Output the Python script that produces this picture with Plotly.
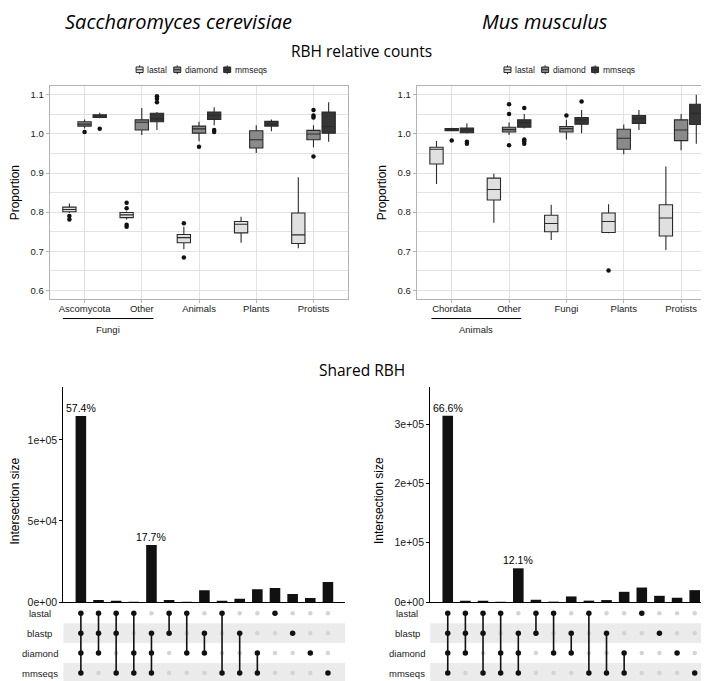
import plotly.graph_objects as go

W, H = 709, 681

# ---------------- data ----------------
methods = ["lastal", "diamond", "mmseqs"]
sc_groups = ["Ascomycota", "Other", "Animals", "Plants", "Protists"]
mm_groups = ["Chordata", "Other", "Fungi", "Plants", "Protists"]

# box statistics per method (lists over groups): q1, median, q3, lower whisker, upper whisker
sc_lastal_q1 = [0.801, 0.786, 0.722, 0.747, 0.720]
sc_lastal_med = [0.807, 0.793, 0.735, 0.769, 0.742]
sc_lastal_q3 = [0.813, 0.799, 0.743, 0.776, 0.798]
sc_lastal_lo = [0.798, 0.781, 0.705, 0.722, 0.708]
sc_lastal_hi = [0.822, 0.802, 0.763, 0.788, 0.889]
sc_lastal_out = [[0.790, 0.781], [0.824, 0.810, 0.768, 0.763], [0.772, 0.684], [], []]

sc_diamond_q1 = [1.020, 1.010, 1.002, 0.964, 0.985]
sc_diamond_med = [1.025, 1.030, 1.013, 0.985, 1.000]
sc_diamond_q3 = [1.031, 1.036, 1.020, 1.008, 1.009]
sc_diamond_lo = [1.014, 0.997, 0.981, 0.951, 0.966]
sc_diamond_hi = [1.037, 1.066, 1.031, 1.022, 1.022]
sc_diamond_out = [[1.005], [], [0.967], [], [1.061, 1.047, 1.042, 0.942]]

sc_mmseqs_q1 = [1.042, 1.031, 1.037, 1.020, 1.002]
sc_mmseqs_med = [1.046, 1.039, 1.047, 1.025, 1.019]
sc_mmseqs_q3 = [1.049, 1.053, 1.056, 1.032, 1.056]
sc_mmseqs_lo = [1.040, 1.010, 1.022, 1.007, 0.980]
sc_mmseqs_hi = [1.054, 1.056, 1.068, 1.037, 1.081]
sc_mmseqs_out = [[1.013], [1.096, 1.090, 1.081], [1.010, 1.005], [], []]

mm_lastal_q1 = [0.923, 0.831, 0.750, 0.748, 0.739]
mm_lastal_med = [0.961, 0.858, 0.771, 0.776, 0.785]
mm_lastal_q3 = [0.966, 0.887, 0.792, 0.798, 0.819]
mm_lastal_lo = [0.872, 0.773, 0.729, 0.746, 0.703]
mm_lastal_hi = [0.982, 0.898, 0.819, 0.820, 0.917]
mm_lastal_out = [[], [], [], [0.651], []]

mm_diamond_q1 = [1.0085, 1.005, 1.005, 0.961, 0.983]
mm_diamond_med = [1.011, 1.011, 1.0136, 0.989, 1.010]
mm_diamond_q3 = [1.0136, 1.017, 1.019, 1.012, 1.036]
mm_diamond_lo = [1.007, 0.997, 0.986, 0.948, 0.958]
mm_diamond_hi = [1.016, 1.029, 1.036, 1.024, 1.051]
mm_diamond_out = [[0.983], [1.076, 1.051, 0.971], [1.047], [], []]

mm_mmseqs_q1 = [1.003, 1.017, 1.025, 1.027, 1.024]
mm_mmseqs_med = [1.010, 1.029, 1.036, 1.039, 1.053]
mm_mmseqs_q3 = [1.015, 1.036, 1.042, 1.047, 1.076]
mm_mmseqs_lo = [1.001, 1.014, 1.002, 1.010, 0.975]
mm_mmseqs_hi = [1.027, 1.051, 1.061, 1.061, 1.100]
mm_mmseqs_out = [[0.980, 0.975], [1.066, 0.986, 0.981, 0.975], [1.083], [], []]

prop_ticks = [0.6, 0.7, 0.8, 0.9, 1.0, 1.1]

# UpSet intersections
set_names = ["lastal", "blastp", "diamond", "mmseqs"]
intersections = [
    ["lastal", "blastp", "diamond", "mmseqs"],
    ["lastal", "blastp", "diamond"],
    ["lastal", "blastp", "mmseqs"],
    ["lastal", "diamond", "mmseqs"],
    ["blastp", "diamond", "mmseqs"],
    ["lastal", "blastp"],
    ["lastal", "diamond"],
    ["blastp", "diamond"],
    ["lastal", "mmseqs"],
    ["blastp", "mmseqs"],
    ["diamond", "mmseqs"],
    ["lastal"],
    ["blastp"],
    ["diamond"],
    ["mmseqs"],
]
sc_sizes = [114700, 1200, 600, 200, 35200, 1200, 100, 7300, 400, 2000, 7900, 8700, 4900, 2400, 12400]
mm_sizes = [314000, 2200, 1000, 500, 56800, 3800, 100, 9400, 1000, 3300, 17200, 24400, 10500, 7200, 20000]
sc_pct_labels = ["57.4%", "", "", "", "17.7%", "", "", "", "", "", "", "", "", "", ""]
mm_pct_labels = ["66.6%", "", "", "", "12.1%", "", "", "", "", "", "", "", "", "", ""]
sc_size_ticks = [0, 50000, 100000]
sc_size_ticktext = ["0e+00", "5e+04", "1e+05"]
mm_size_ticks = [0, 100000, 200000, 300000]
mm_size_ticktext = ["0e+00", "1e+05", "2e+05", "3e+05"]

# ---------------- style ----------------
FONT = "Liberation Sans, Arial, sans-serif"
TFONT = "Open Sans, sans-serif"
fills = {"lastal": "#e0e0e0", "diamond": "#8a8a8a", "mmseqs": "#363636"}
offsets = {"lastal": -0.265, "diamond": 0.0, "mmseqs": 0.265}
BOXW = 0.232
GRID = "#e2e2e2"
BORDER = "#b3b3b3"


def px(x):
    return x / W


def py(y):
    return 1 - y / H


fig = go.Figure()

panels = [
    ("x", "y", sc_groups, {
        "lastal": (sc_lastal_q1, sc_lastal_med, sc_lastal_q3, sc_lastal_lo, sc_lastal_hi, sc_lastal_out),
        "diamond": (sc_diamond_q1, sc_diamond_med, sc_diamond_q3, sc_diamond_lo, sc_diamond_hi, sc_diamond_out),
        "mmseqs": (sc_mmseqs_q1, sc_mmseqs_med, sc_mmseqs_q3, sc_mmseqs_lo, sc_mmseqs_hi, sc_mmseqs_out),
    }),
    ("x2", "y2", mm_groups, {
        "lastal": (mm_lastal_q1, mm_lastal_med, mm_lastal_q3, mm_lastal_lo, mm_lastal_hi, mm_lastal_out),
        "diamond": (mm_diamond_q1, mm_diamond_med, mm_diamond_q3, mm_diamond_lo, mm_diamond_hi, mm_diamond_out),
        "mmseqs": (mm_mmseqs_q1, mm_mmseqs_med, mm_mmseqs_q3, mm_mmseqs_lo, mm_mmseqs_hi, mm_mmseqs_out),
    }),
]

for xa, ya, groups, stats in panels:
    for m in methods:
        q1, med, q3, lo, hi, out = stats[m]
        xs = [i + offsets[m] for i in range(len(groups))]
        fig.add_trace(go.Box(
            x=xs, q1=q1, median=med, q3=q3, lowerfence=lo, upperfence=hi,
            width=BOXW, whiskerwidth=0, fillcolor=fills[m],
            line=dict(color="#2a2a2a", width=1.1),
            boxpoints=False, showlegend=False, hoverinfo="skip",
            xaxis=xa, yaxis=ya, name=m,
        ))
        ox, oy = [], []
        for i, vals in enumerate(out):
            for v in vals:
                ox.append(i + offsets[m])
                oy.append(v)
        fig.add_trace(go.Scatter(
            x=ox, y=oy, mode="markers",
            marker=dict(color="#111111", size=4.5),
            showlegend=False, hoverinfo="skip", xaxis=xa, yaxis=ya,
        ))

# bars + matrix
bar_panels = [
    ("x3", "y3", "x5", "y5", sc_sizes, sc_pct_labels),
    ("x4", "y4", "x6", "y6", mm_sizes, mm_pct_labels),
]
annotations = []
shapes = []
for xb, yb, xm, ym, sizes, pcts in bar_panels:
    cols = list(range(1, len(intersections) + 1))
    fig.add_trace(go.Bar(
        x=cols, y=sizes, width=0.6, marker=dict(color="#111111", line=dict(width=0)),
        showlegend=False, hoverinfo="skip", xaxis=xb, yaxis=yb,
    ))
    for c, v, t in zip(cols, sizes, pcts):
        if t:
            annotations.append(dict(x=c, y=v, xref=xb, yref=yb, text=t, showarrow=False,
                                    yanchor="bottom", yshift=0,
                                    font=dict(family=FONT, size=10.5, color="#000")))
    # stripes
    for r, name in enumerate(set_names):
        if r % 2 == 1:
            shapes.append(dict(type="rect", xref=xm, yref=ym, x0=0, x1=15.98,
                               y0=r - 0.5, y1=r + 0.5, fillcolor="#ebebeb",
                               line=dict(width=0), layer="below"))
    gx, gy, bx, bby, lx, ly = [], [], [], [], [], []
    for c, inter in zip(cols, intersections):
        rows = [set_names.index(s) for s in inter]
        for r in range(len(set_names)):
            if r in rows:
                bx.append(c)
                bby.append(r)
            else:
                gx.append(c)
                gy.append(r)
        if len(rows) > 1:
            lx += [c, c, None]
            ly += [min(rows), max(rows), None]
    fig.add_trace(go.Scatter(x=gx, y=gy, mode="markers",
                             marker=dict(color="#d4d4d4", size=4.5),
                             showlegend=False, hoverinfo="skip", xaxis=xm, yaxis=ym))
    fig.add_trace(go.Scatter(x=lx, y=ly, mode="lines",
                             line=dict(color="#111111", width=1.6),
                             showlegend=False, hoverinfo="skip", xaxis=xm, yaxis=ym))
    fig.add_trace(go.Scatter(x=bx, y=bby, mode="markers",
                             marker=dict(color="#111111", size=5.5),
                             showlegend=False, hoverinfo="skip", xaxis=xm, yaxis=ym))

# row labels of matrices
for xm, ym, cx in [("x5", "y5", 32), ("x6", "y6", 400)]:
    for r, name in enumerate(set_names):
        annotations.append(dict(x=px(cx), y=r, xref="paper", yref=ym, text=name,
                                showarrow=False, xanchor="center",
                                font=dict(family=FONT, size=9.5, color="#1a1a1a")))

# ---------------- axes ----------------
box_x_common = dict(range=[-0.61, 4.6], tickmode="array", tickvals=list(range(5)),
                    showgrid=True, gridcolor=GRID, gridwidth=1, showline=True, mirror=True,
                    linecolor=BORDER, linewidth=1, ticks="outside", ticklen=3, tickcolor=BORDER,
                    ticklabelstandoff=-3,
                    tickfont=dict(family=FONT, size=9.5, color="#1a1a1a"), zeroline=False)
box_y_common = dict(range=[0.577, 1.123], tickmode="array", tickvals=prop_ticks,
                    ticktext=[f"{v:.1f}" for v in prop_ticks],
                    showgrid=True, gridcolor=GRID, gridwidth=1, showline=True, mirror=True,
                    linecolor=BORDER, linewidth=1, ticks="outside", ticklen=3, tickcolor=BORDER,
                    tickfont=dict(family=FONT, size=9.5, color="#1a1a1a"), zeroline=False,
                    minor=dict(tickvals=[0.65, 0.75, 0.85, 0.95, 1.05], showgrid=True,
                               gridcolor=GRID, gridwidth=1, ticks=""))

BOX_TOP, BOX_BOT = 78.5, 294
BAR_TOP, BAR_BOT = 382, 599.3
MAT_TOP = 600.5

layout_axes = dict(
    xaxis=dict(domain=[px(41.7), px(340.3)], anchor="y", ticktext=sc_groups, **box_x_common),
    yaxis=dict(domain=[py(BOX_BOT), py(BOX_TOP)], anchor="x", **box_y_common),
    xaxis2=dict(domain=[px(409.3), px(708.5)], anchor="y2", ticktext=mm_groups, **box_x_common),
    yaxis2=dict(domain=[py(BOX_BOT), py(BOX_TOP)], anchor="x2", **box_y_common),
)

bar_x_common = dict(range=[0, 15.98], showline=True, linecolor="#000", linewidth=1,
                    showticklabels=False, ticks="", showgrid=False, zeroline=False)
bar_y_common = dict(showline=True, linecolor="#000", linewidth=1, ticks="outside", ticklen=3,
                    tickcolor="#000", showgrid=False, zeroline=False, tickmode="array",
                    tickfont=dict(family=FONT, size=10.5, color="#1a1a1a"))
mat_x_common = dict(range=[0, 15.98], visible=False, showgrid=False, zeroline=False)
mat_y_common = dict(range=[3.5, -0.5], visible=False, showgrid=False, zeroline=False)

layout_axes.update(
    xaxis3=dict(domain=[px(55.3), px(337.7)], anchor="y3", **bar_x_common),
    yaxis3=dict(domain=[py(BAR_BOT), py(BAR_TOP)], anchor="x3", range=[0, 132800],
                tickvals=sc_size_ticks, ticktext=sc_size_ticktext, **bar_y_common),
    xaxis4=dict(domain=[px(422.7), px(705)], anchor="y4", **bar_x_common),
    yaxis4=dict(domain=[py(BAR_BOT), py(BAR_TOP)], anchor="x4", range=[0, 363000],
                tickvals=mm_size_ticks, ticktext=mm_size_ticktext, **bar_y_common),
    xaxis5=dict(domain=[px(55.3), px(337.7)], anchor="y5", **mat_x_common),
    yaxis5=dict(domain=[0, py(MAT_TOP)], anchor="x5", **mat_y_common),
    xaxis6=dict(domain=[px(422.7), px(705)], anchor="y6", **mat_x_common),
    yaxis6=dict(domain=[0, py(MAT_TOP)], anchor="x6", **mat_y_common),
)

# ---------------- texts ----------------
def txt(x, y, s, size, family=FONT, angle=0, color="#000", xanchor="center"):
    annotations.append(dict(x=px(x), y=py(y), xref="paper", yref="paper", text=s,
                            showarrow=False, xanchor=xanchor, yanchor="middle",
                            textangle=angle, font=dict(family=family, size=size, color=color)))


txt(170.5, 14, "<i>Saccharomyces cerevisiae</i>", 20, TFONT)
txt(538, 14, "<i>Mus musculus</i>", 20, TFONT)
txt(354, 43.5, "RBH relative counts", 15.5, TFONT)
txt(354, 365, "Shared RBH", 15.5, TFONT)
txt(7, 186, "Proportion", 12, angle=-90)
txt(374.5, 186, "Proportion", 12, angle=-90)
txt(7, 497, "Intersection size", 12, angle=-90)
txt(371, 497, "Intersection size", 12, angle=-90)
txt(100, 324.5, "Fungi", 9.5, color="#1a1a1a")
txt(469, 324.5, "Animals", 9.5, color="#1a1a1a")

shapes.append(dict(type="line", xref="paper", yref="paper", x0=px(55), x1=px(145.7),
                   y0=py(313.3), y1=py(313.3), line=dict(color="#000", width=1)))
shapes.append(dict(type="line", xref="paper", yref="paper", x0=px(424), x1=px(514),
                   y0=py(313.3), y1=py(313.3), line=dict(color="#000", width=1)))

# manual legends (one per box panel)
leg_item_offsets = {"lastal": 0, "diamond": 37.7, "mmseqs": 87.7}
for start in [128.3, 496.7]:
    ly0 = 62.3
    for m in methods:
        x0 = start + leg_item_offsets[m]
        shapes.append(dict(type="line", xref="paper", yref="paper", x0=px(x0 + 3.5), x1=px(x0 + 3.5),
                           y0=py(ly0 - 4.5), y1=py(ly0 + 4.5), line=dict(color="#2a2a2a", width=1)))
        shapes.append(dict(type="rect", xref="paper", yref="paper", x0=px(x0), x1=px(x0 + 7),
                           y0=py(ly0 - 2.8), y1=py(ly0 + 2.8), fillcolor=fills[m],
                           line=dict(color="#2a2a2a", width=1)))
        shapes.append(dict(type="line", xref="paper", yref="paper", x0=px(x0), x1=px(x0 + 7),
                           y0=py(ly0), y1=py(ly0), line=dict(color="#2a2a2a", width=1)))
        txt(x0 + 9, ly0, m, 8.5, xanchor="left", color="#1a1a1a")

fig.update_layout(
    width=W, height=H, margin=dict(l=0, r=0, t=0, b=0),
    paper_bgcolor="white", plot_bgcolor="white",
    showlegend=False, boxmode="overlay",
    annotations=annotations, shapes=shapes,
    font=dict(family=FONT),
    **layout_axes,
)

fig.write_html("out.html")
